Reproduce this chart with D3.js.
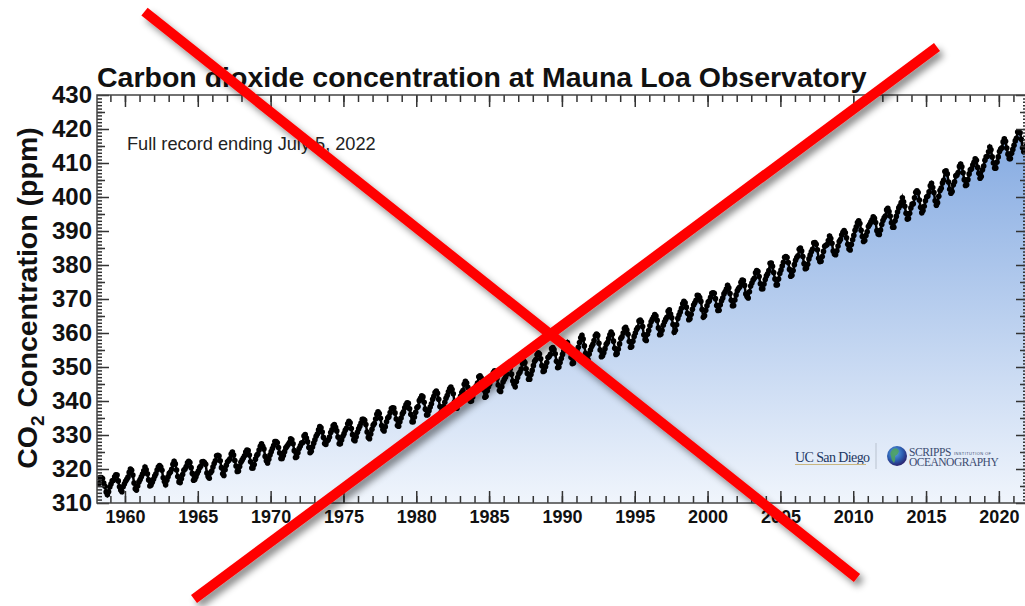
<!DOCTYPE html>
<meta charset="utf-8">
<style>
  body { margin: 0; background: #fff; }
  svg { display: block; font-family: "Liberation Sans", Arial, Helvetica, sans-serif; }
  .axis .domain { display: none; }
  .axis line { stroke: #333; stroke-width: 1.5; }
  .axis text { font-weight: bold; fill: #111; }
  .xlab text { font-size: 18px; }
  .ylab text { font-size: 24px; }
</style>
<svg width="1025" height="606"></svg>
<script src="https://cdn.jsdelivr.net/npm/d3@7"></script>
<script>
// monthly mean CO2 (ppm), one row of 12 months per year, starting 1958
var firstYear = 1958;
var co2_1950s = [
  [null, null, 315.7, 317.5, 317.5, 317.2, 315.9, 314.9, 313.2, 312.4, 313.3, 314.7],
  [315.6, 316.5, 316.7, 317.7, 318.3, 318.2, 316.5, 314.8, 313.8, 313.3, 314.8, 315.6]
];
var co2_1960s = [
  [316.4, 317.0, 317.6, 319.0, 320.0, 319.6, 318.2, 315.9, 314.2, 313.8, 315.0, 316.2],
  [316.9, 317.7, 318.5, 319.5, 320.6, 319.8, 318.6, 316.8, 315.0, 315.3, 316.1, 317.0],
  [317.9, 318.6, 319.7, 320.6, 321.0, 320.6, 319.6, 317.4, 316.3, 315.4, 316.7, 317.7],
  [318.7, 319.1, 319.9, 321.4, 322.3, 321.5, 319.7, 317.8, 316.2, 316.0, 317.1, 318.4],
  [319.6, 320.0, 320.7, 321.8, 322.3, 321.9, 320.4, 318.7, 316.7, 316.9, 317.7, 318.7],
  [319.4, 320.4, 320.9, 322.1, 322.2, 321.9, 321.4, 318.8, 317.8, 317.3, 318.9, 319.4],
  [320.6, 321.6, 322.4, 323.9, 324.0, 323.8, 322.4, 320.4, 318.6, 318.1, 319.8, 321.1],
  [322.1, 322.5, 323.0, 324.4, 325.0, 324.1, 322.5, 320.9, 319.3, 319.4, 320.7, 322.0],
  [322.6, 323.2, 323.9, 325.0, 325.6, 325.4, 324.1, 322.1, 320.3, 320.3, 321.3, 322.9],
  [324.0, 324.4, 325.6, 326.7, 327.4, 326.7, 325.9, 323.7, 322.4, 321.8, 322.9, 324.1]
];
var co2_1970s = [
  [325.1, 326.0, 326.9, 328.1, 328.1, 327.7, 326.3, 324.7, 323.1, 323.1, 324.0, 325.1],
  [326.2, 326.7, 327.2, 327.8, 328.9, 328.6, 327.4, 325.4, 323.4, 323.6, 324.8, 326.0],
  [326.8, 327.6, 327.8, 329.7, 330.1, 329.1, 328.0, 326.3, 324.8, 325.2, 326.5, 327.6],
  [328.6, 329.6, 330.3, 331.5, 332.5, 332.1, 330.9, 329.3, 327.5, 327.2, 328.2, 328.6],
  [329.4, 330.7, 331.5, 332.7, 333.1, 332.3, 331.2, 329.4, 327.4, 327.4, 328.5, 329.6],
  [330.4, 331.4, 332.0, 333.3, 334.0, 333.6, 331.9, 330.1, 328.6, 328.3, 329.5, 330.8],
  [331.8, 332.6, 333.5, 334.6, 334.6, 334.3, 333.1, 330.9, 329.3, 328.9, 330.3, 331.7],
  [332.9, 333.4, 334.7, 336.1, 336.8, 336.3, 334.9, 332.8, 331.6, 331.2, 332.4, 333.9],
  [335.0, 335.4, 336.6, 337.8, 338.0, 337.9, 336.5, 334.7, 332.8, 332.6, 333.9, 335.0],
  [336.2, 336.8, 338.0, 338.9, 339.5, 339.3, 337.7, 336.1, 333.9, 333.9, 335.3, 336.7]
];
var co2_1980s = [
  [338.0, 338.4, 340.1, 340.8, 341.5, 341.2, 339.6, 337.6, 335.9, 336.0, 337.1, 338.2],
  [339.2, 340.5, 341.4, 342.5, 342.9, 342.3, 340.5, 338.4, 336.7, 336.9, 338.4, 339.6],
  [340.8, 341.6, 342.7, 343.6, 344.1, 343.4, 342.1, 339.8, 338.0, 337.9, 339.3, 340.5],
  [341.4, 342.5, 343.1, 344.9, 345.8, 345.3, 344.0, 342.4, 339.9, 340.0, 341.2, 343.0],
  [343.7, 344.5, 345.3, 347.1, 347.4, 346.8, 345.4, 343.3, 341.1, 341.4, 343.0, 344.2],
  [345.0, 346.0, 347.4, 348.4, 348.9, 348.3, 346.6, 344.7, 343.1, 342.8, 344.2, 345.6],
  [346.3, 347.0, 347.9, 349.6, 350.2, 349.5, 347.9, 345.9, 344.9, 344.2, 345.7, 346.9],
  [348.0, 348.5, 349.4, 351.0, 351.8, 351.3, 349.5, 348.1, 346.4, 346.4, 347.8, 349.0],
  [350.4, 351.7, 352.2, 353.6, 354.2, 353.8, 352.4, 350.4, 348.7, 348.9, 350.1, 351.3],
  [352.8, 353.1, 353.7, 355.4, 355.7, 355.1, 353.9, 351.7, 349.8, 350.0, 351.3, 352.5]
];
var co2_1990s = [
  [353.7, 354.7, 355.4, 356.2, 357.2, 356.2, 354.8, 352.9, 351.0, 351.2, 352.8, 354.2],
  [354.7, 355.8, 357.2, 358.6, 359.3, 358.2, 356.2, 354.0, 352.2, 352.2, 353.8, 355.0],
  [356.0, 356.7, 357.8, 359.2, 359.7, 359.3, 357.0, 355.0, 353.0, 353.3, 354.2, 355.4],
  [356.7, 357.2, 358.4, 359.5, 360.3, 359.6, 357.6, 355.5, 353.7, 354.0, 355.3, 356.8],
  [358.4, 358.9, 360.0, 361.3, 361.7, 360.9, 359.6, 357.5, 355.8, 356.0, 357.6, 359.0],
  [360.0, 361.0, 361.6, 363.5, 363.8, 363.3, 361.9, 359.5, 358.1, 357.8, 359.6, 360.7],
  [362.1, 363.3, 364.0, 364.7, 365.4, 365.0, 363.7, 361.5, 359.5, 359.6, 360.8, 362.3],
  [363.2, 364.0, 364.6, 366.4, 366.8, 365.6, 364.5, 362.5, 360.2, 360.8, 362.4, 364.3],
  [365.3, 366.2, 367.3, 368.6, 369.3, 368.9, 367.6, 365.8, 363.9, 364.2, 365.5, 367.0],
  [368.2, 368.9, 369.6, 371.1, 371.0, 370.4, 369.3, 366.9, 364.6, 365.1, 366.7, 368.0]
];
var co2_2000s = [
  [369.1, 369.5, 370.5, 371.7, 371.8, 371.7, 370.1, 368.1, 366.6, 366.7, 368.3, 369.5],
  [370.3, 371.5, 372.1, 372.9, 374.0, 373.3, 371.6, 369.6, 368.0, 368.1, 369.7, 371.2],
  [372.4, 373.1, 373.5, 374.9, 375.6, 375.4, 374.0, 371.5, 370.7, 370.3, 372.1, 373.8],
  [374.7, 375.6, 376.1, 377.7, 378.4, 378.1, 376.6, 374.5, 373.0, 373.0, 374.4, 375.7],
  [376.8, 377.4, 378.4, 380.5, 380.6, 379.6, 377.8, 375.9, 374.1, 374.2, 375.9, 377.5],
  [378.5, 379.7, 380.8, 382.3, 382.5, 382.2, 380.7, 378.7, 376.7, 377.0, 378.4, 380.1],
  [381.4, 382.2, 382.7, 384.6, 385.0, 384.1, 382.5, 380.4, 378.9, 379.1, 380.2, 381.8],
  [382.9, 383.9, 384.6, 386.5, 386.6, 386.1, 384.5, 382.0, 381.0, 381.1, 382.5, 384.0],
  [385.5, 385.8, 386.0, 387.2, 388.5, 387.8, 386.4, 384.1, 383.2, 383.0, 384.2, 385.6],
  [386.9, 387.5, 388.8, 389.6, 390.1, 389.5, 388.0, 386.1, 384.7, 384.4, 386.0, 387.4]
];
var co2_2010s = [
  [388.7, 390.2, 391.2, 392.5, 393.0, 392.2, 390.2, 388.4, 386.9, 387.2, 388.7, 389.8],
  [391.3, 391.9, 392.6, 393.3, 394.2, 393.7, 392.5, 390.1, 389.1, 389.0, 390.3, 391.9],
  [393.1, 393.9, 394.4, 396.2, 396.7, 395.7, 394.4, 392.4, 391.1, 391.1, 393.0, 394.3],
  [395.6, 396.8, 397.4, 398.4, 399.8, 398.6, 397.3, 395.2, 393.5, 393.7, 395.2, 396.8],
  [397.9, 398.0, 399.8, 401.4, 401.8, 401.3, 399.1, 397.0, 395.4, 396.0, 397.3, 398.9],
  [400.0, 400.3, 401.5, 403.3, 404.0, 402.8, 401.3, 398.9, 397.6, 398.3, 400.2, 401.9],
  [402.6, 404.1, 404.9, 407.5, 407.7, 406.8, 404.4, 402.3, 401.1, 401.6, 403.6, 404.5],
  [406.2, 406.5, 407.2, 409.0, 409.7, 408.9, 407.1, 405.1, 403.4, 403.6, 405.1, 406.8],
  [408.0, 408.3, 409.4, 410.2, 411.2, 410.8, 408.7, 407.0, 405.5, 406.0, 408.0, 409.1],
  [410.8, 411.8, 412.0, 413.3, 414.7, 413.9, 411.8, 410.0, 408.5, 408.5, 410.3, 411.8]
];
var co2_2020s = [
  [413.4, 414.1, 414.5, 416.2, 417.1, 416.4, 414.4, 412.6, 411.3, 411.3, 412.9, 414.0],
  [415.2, 416.5, 417.3, 419.1, 419.1, 418.9, 417.0, 414.5, 413.3, 413.9, 415.0, 416.7],
  [418.2, 419.3, 418.8, 420.2, 421.0, 421.0, 418.9, null, null, null, null, null]
];

var yearLabels = [1960, 1965, 1970, 1975, 1980, 1985, 1990, 1995, 2000, 2005, 2010, 2015, 2020];
var minorYears = d3.range(1959, 2022);
var ppmLabels = [310, 320, 330, 340, 350, 360, 370, 380, 390, 400, 410, 420, 430];
var ppmHalf = d3.range(315, 430, 10);
var ppmMinor = d3.range(311, 430);

var title = "Carbon dioxide concentration at Mauna Loa Observatory";
var note = "Full record ending July 5, 2022";

var points = [];
var yr = firstYear;
[co2_1950s, co2_1960s, co2_1970s, co2_1980s, co2_1990s, co2_2000s, co2_2010s, co2_2020s]
  .forEach(function(dec) {
    dec.forEach(function(row) {
      row.forEach(function(v, m) {
        if (v != null) points.push({t: yr + (m + 0.5) / 12, v: v});
      });
      yr++;
    });
  });

var svg = d3.select("svg");
var plotL = 97, plotR = 1028, plotT = 95, plotB = 503;

var x = d3.scaleLinear().domain([1958.08, 2022]).range([plotL, plotR]);
var y = d3.scaleLinear().domain([310, 430]).range([plotB, plotT]);

var defs = svg.append("defs");
var grad = defs.append("linearGradient").attr("id", "fillGrad")
    .attr("gradientUnits", "userSpaceOnUse")
    .attr("x1", 0).attr("y1", plotT).attr("x2", 0).attr("y2", plotB);
grad.append("stop").attr("offset", 0).attr("stop-color", "#7aa3df");
grad.append("stop").attr("offset", 1).attr("stop-color", "#f0f5fc");

defs.append("clipPath").attr("id", "plotClip")
  .append("rect").attr("x", plotL).attr("y", plotT)
  .attr("width", plotR - plotL).attr("height", plotB - plotT);

var shadow = defs.append("filter").attr("id", "shadow")
    .attr("x", "-20%").attr("y", "-20%").attr("width", "140%").attr("height", "140%");
shadow.append("feDropShadow").attr("dx", 4).attr("dy", 5)
    .attr("stdDeviation", 3.5).attr("flood-color", "#000").attr("flood-opacity", 0.45);

var globe = defs.append("radialGradient").attr("id", "globe")
    .attr("cx", "40%").attr("cy", "35%").attr("r", "65%");
globe.append("stop").attr("offset", 0).attr("stop-color", "#5fa8e8");
globe.append("stop").attr("offset", 0.6).attr("stop-color", "#2b5db0");
globe.append("stop").attr("offset", 1).attr("stop-color", "#2a2470");

var plot = svg.append("g").attr("clip-path", "url(#plotClip)");

plot.append("path")
  .datum(points)
  .attr("fill", "url(#fillGrad)")
  .attr("d", d3.area().x(d => x(d.t)).y0(plotB).y1(d => y(d.v)));

// logos
var logo = svg.append("g");
logo.append("text").attr("x", 795).attr("y", 462)
  .attr("font-family", "'Liberation Serif', 'DejaVu Serif', serif")
  .attr("font-size", 14).attr("letter-spacing", -0.6).attr("fill", "#1d3763")
  .text("UC San Diego");
logo.append("line").attr("x1", 795).attr("x2", 866).attr("y1", 464.5).attr("y2", 464.5)
  .attr("stroke", "#c9b680").attr("stroke-width", 1);
logo.append("line").attr("x1", 876).attr("x2", 876).attr("y1", 443).attr("y2", 469)
  .attr("stroke", "#b9c2cf").attr("stroke-width", 1);
logo.append("circle").attr("cx", 897).attr("cy", 456).attr("r", 10).attr("fill", "url(#globe)");
logo.append("path").attr("d", "M893,449 q4,-2 6,2 q-1,4 -4,5 q1,4 -1,7 q-3,-3 -3,-7 q-2,-3 2,-7z")
  .attr("fill", "#4fa35a").attr("opacity", 0.85);
logo.append("text").attr("x", 909).attr("y", 456)
  .attr("font-family", "'Liberation Serif', 'DejaVu Serif', serif")
  .attr("font-size", 11.5).attr("letter-spacing", -0.4).attr("fill", "#3b4a70")
  .text("SCRIPPS");
logo.append("text").attr("x", 954).attr("y", 454.5)
  .attr("font-family", "'Liberation Sans', Arial, sans-serif")
  .attr("font-size", 4).attr("letter-spacing", 0.4).attr("fill", "#3b4a70")
  .text("INSTITUTION OF");
logo.append("text").attr("x", 909).attr("y", 466)
  .attr("font-family", "'Liberation Serif', 'DejaVu Serif', serif")
  .attr("font-size", 11.5).attr("letter-spacing", -0.5).attr("fill", "#3b4a70")
  .text("OCEANOGRAPHY");

// data line and dots
plot.append("path")
  .datum(points)
  .attr("fill", "none").attr("stroke", "#000").attr("stroke-width", 2.5)
  .attr("d", d3.line().x(d => x(d.t)).y(d => y(d.v)));
plot.append("g").selectAll("circle")
  .data(points)
  .enter().append("circle")
    .attr("cx", d => x(d.t))
    .attr("cy", d => y(d.v))
    .attr("r", 2.8)
    .attr("fill", "#000");

// axes (ticks pointing inside)
function addAxis(axis, tx, ty, cls) {
  svg.append("g").attr("class", "axis " + (cls || ""))
    .attr("transform", "translate(" + tx + "," + ty + ")")
    .call(axis);
}
addAxis(d3.axisBottom(x).tickValues(minorYears).tickSize(-7).tickFormat(""), 0, plotB);
addAxis(d3.axisBottom(x).tickValues(yearLabels).tickSize(-12).tickPadding(7).tickFormat(d3.format("d")), 0, plotB, "xlab");
addAxis(d3.axisTop(x).tickValues(minorYears).tickSize(-7).tickFormat(""), 0, plotT);
addAxis(d3.axisTop(x).tickValues(yearLabels).tickSize(-12).tickFormat(""), 0, plotT);

addAxis(d3.axisLeft(y).tickValues(ppmMinor).tickSize(-5).tickFormat(""), plotL, 0);
addAxis(d3.axisLeft(y).tickValues(ppmHalf).tickSize(-8).tickFormat(""), plotL, 0);
addAxis(d3.axisLeft(y).tickValues(ppmLabels).tickSize(-12).tickPadding(5).tickFormat(d3.format("d")), plotL, 0, "ylab");
addAxis(d3.axisRight(y).tickValues(ppmMinor).tickSize(-5).tickFormat(""), plotR, 0);
addAxis(d3.axisRight(y).tickValues(ppmHalf).tickSize(-8).tickFormat(""), plotR, 0);
addAxis(d3.axisRight(y).tickValues(ppmLabels).tickSize(-12).tickFormat(""), plotR, 0);

svg.append("rect")
  .attr("x", plotL).attr("y", plotT).attr("width", plotR - plotL).attr("height", plotB - plotT)
  .attr("fill", "none").attr("stroke", "#444").attr("stroke-width", 1.5);

// titles
svg.append("text").attr("x", plotL).attr("y", 87)
  .attr("font-size", 28.5).attr("font-weight", "bold").attr("fill", "#111")
  .text(title);

svg.append("text").attr("x", 127).attr("y", 150)
  .attr("font-size", 18.2).attr("fill", "#222")
  .text(note);

var ylab = svg.append("text")
  .attr("transform", "translate(37,298) rotate(-90)")
  .attr("text-anchor", "middle")
  .attr("font-size", 28.5).attr("font-weight", "bold").attr("fill", "#111");
ylab.append("tspan").text("CO");
ylab.append("tspan").attr("font-size", 19).attr("dy", 7).text("2");
ylab.append("tspan").attr("dy", -7).text(" Concentration (ppm)");

// red cross over the chart
var cross = [
  {x1: 144.5, y1: 11.7, x2: 857, y2: 578},
  {x1: 937, y1: 47, x2: 194, y2: 599}
];
svg.append("g").attr("filter", "url(#shadow)")
  .selectAll("line")
  .data(cross)
  .enter().append("line")
    .attr("x1", d => d.x1).attr("y1", d => d.y1)
    .attr("x2", d => d.x2).attr("y2", d => d.y2)
    .attr("stroke", "#ff0000").attr("stroke-width", 10)
    .attr("stroke-linecap", "butt");
</script>
